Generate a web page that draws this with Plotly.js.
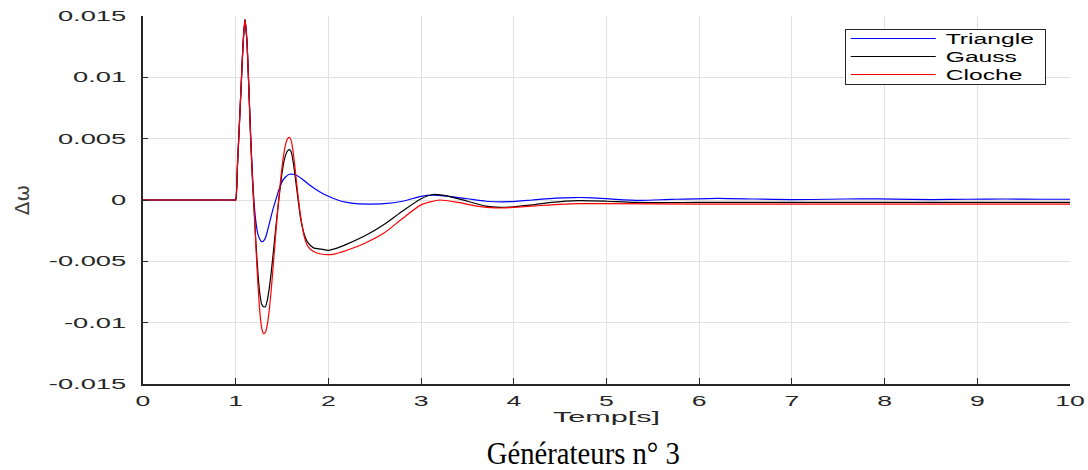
<!DOCTYPE html>
<html>
<head>
<meta charset="utf-8">
<script src="https://cdn.plot.ly/plotly-3.0.1.min.js"></script>
<style>
  html, body { margin: 0; padding: 0; background: #fff; }
  #chart { width: 1088px; height: 470px; }
</style>
</head>
<body>
<div id="chart"></div>
<script>
// ---- Data ----
var seriesNames = ['Triangle', 'Gauss', 'Cloche'];
var seriesColors = ['#0000ff', '#000000', '#ff0000'];

var tTriangle = [0, 0.5, 0.99, 1.00, 1.02, 1.04, 1.06, 1.08, 1.10, 1.12, 1.14, 1.16, 1.18, 1.20, 1.22, 1.24, 1.26, 1.28, 1.30, 1.32, 1.34, 1.36, 1.38, 1.40, 1.42, 1.44, 1.46, 1.48, 1.50, 1.54, 1.58, 1.62, 1.66, 1.72, 1.80, 1.90, 2.00, 2.10, 2.20, 2.30, 2.45, 2.60, 2.80, 3.00, 3.13, 3.30, 3.50, 3.70, 3.95, 4.20, 4.45, 4.65, 4.85, 5.10, 5.36, 5.70, 6.20, 6.60, 7.00, 7.40, 7.75, 8.10, 8.50, 8.90, 9.30, 9.70, 10.0];
var vTriangle = [0, 0, 0, 0, 0.0030, 0.0062, 0.0095, 0.0128, 0.0147, 0.0131, 0.0095, 0.0055, 0.0022, -0.0004, -0.0019, -0.0028, -0.0032, -0.0034, -0.00335, -0.0031, -0.0026, -0.0020, -0.0014, -0.0008, -0.0003, 0.0002, 0.0007, 0.0011, 0.0015, 0.0019, 0.0021, 0.0021, 0.0020, 0.0017, 0.0012, 0.0007, 0.0003, 0.0000, -0.0002, -0.0003, -0.00033, -0.0003, -0.0001, 0.0003, 0.0004, 0.0003, 0.0001, -0.0001, -0.00014, 0.0000, 0.00015, 0.0002, 0.00018, 0.00005, -0.00003, 0.00005, 0.00014, 0.00008, 0.00003, 0.00006, 0.0001, 0.00007, 0.00003, 0.00006, 0.00008, 0.00006, 0.00006];

var tGauss = [0, 0.5, 0.99, 1.00, 1.02, 1.04, 1.06, 1.08, 1.10, 1.12, 1.14, 1.16, 1.18, 1.20, 1.22, 1.24, 1.26, 1.28, 1.30, 1.32, 1.34, 1.36, 1.38, 1.40, 1.42, 1.44, 1.46, 1.48, 1.50, 1.52, 1.54, 1.56, 1.58, 1.60, 1.62, 1.64, 1.66, 1.68, 1.70, 1.74, 1.78, 1.84, 1.92, 2.00, 2.10, 2.20, 2.40, 2.60, 2.80, 3.00, 3.13, 3.30, 3.50, 3.70, 3.85, 4.00, 4.20, 4.40, 4.70, 5.00, 5.30, 6.00, 7.00, 8.00, 9.00, 10.0];
var vGauss = [0, 0, 0, 0, 0.0030, 0.0062, 0.0095, 0.0128, 0.0147, 0.0131, 0.0095, 0.0053, 0.0018, -0.0010, -0.0037, -0.0060, -0.0076, -0.0085, -0.0087, -0.0087, -0.0082, -0.0073, -0.0061, -0.0047, -0.0032, -0.0017, -0.0003, 0.0010, 0.0022, 0.0031, 0.0037, 0.0040, 0.0041, 0.0039, 0.0031, 0.0020, 0.0008, -0.0004, -0.0015, -0.0028, -0.0035, -0.0039, -0.0040, -0.0041, -0.0039, -0.0036, -0.0029, -0.0020, -0.0009, 0.0001, 0.00045, 0.0003, -0.0001, -0.0005, -0.0006, -0.00055, -0.0004, -0.0002, -0.00005, -0.0001, -0.0002, -0.0002, -0.0002, -0.0002, -0.0002, -0.0002];

var tCloche = [0, 0.5, 0.99, 1.00, 1.02, 1.04, 1.06, 1.08, 1.10, 1.12, 1.14, 1.16, 1.18, 1.20, 1.22, 1.24, 1.26, 1.28, 1.30, 1.32, 1.34, 1.36, 1.38, 1.40, 1.42, 1.44, 1.46, 1.48, 1.50, 1.52, 1.54, 1.56, 1.58, 1.60, 1.62, 1.64, 1.66, 1.68, 1.70, 1.74, 1.78, 1.84, 1.92, 2.05, 2.20, 2.40, 2.60, 2.80, 3.00, 3.20, 3.40, 3.60, 3.80, 4.00, 4.30, 4.70, 5.00, 6.00, 7.00, 8.00, 9.00, 10.0];
var vCloche = [0, 0, 0, 0, 0.0030, 0.0062, 0.0095, 0.0128, 0.0147, 0.0131, 0.0095, 0.0053, 0.0018, -0.0010, -0.0041, -0.0069, -0.0091, -0.0104, -0.0109, -0.0108, -0.0102, -0.0091, -0.0076, -0.0058, -0.0039, -0.0020, -0.0003, 0.0013, 0.0027, 0.0038, 0.0046, 0.0050, 0.0051, 0.0048, 0.0039, 0.0026, 0.0012, -0.0001, -0.0013, -0.0030, -0.0038, -0.0042, -0.0044, -0.00443, -0.0041, -0.0035, -0.0027, -0.0015, -0.0004, 0.0000, -0.0002, -0.0005, -0.00065, -0.0006, -0.00045, -0.0003, -0.0003, -0.00033, -0.00033, -0.00033, -0.00033, -0.00033];

var xTickVals = [0, 1, 2, 3, 4, 5, 6, 7, 8, 9, 10];
var xTickText = ['0', '1', '2', '3', '4', '5', '6', '7', '8', '9', '10'];
var yTickVals = [-0.015, -0.01, -0.005, 0, 0.005, 0.01, 0.015];
var yTickText = ['-0.015', '-0.01', '-0.005', '0', '0.005', '0.01', '0.015'];

var xTitle = 'Temp[s]';
var yTitle = '\u0394\u03c9';
var caption = 'G\u00e9n\u00e9rateurs n\u00b0 3';

// ---- Traces ----
var xs = [tTriangle, tGauss, tCloche];
var ys = [vTriangle, vGauss, vCloche];
var traces = seriesNames.map(function (name, i) {
  return {
    type: 'scatter', mode: 'lines', name: name,
    x: xs[i], y: ys[i],
    line: { color: seriesColors[i], width: 1.2, shape: 'spline', smoothing: 0.6 }
  };
});

var sans = 'Liberation Sans, Arial, sans-serif';
var layout = {
  width: 1088, height: 470,
  margin: { l: 143, r: 18, t: 16, b: 86 },
  paper_bgcolor: '#ffffff', plot_bgcolor: '#ffffff',
  showlegend: true,
  legend: {
    x: 0.757, y: 0.9647, xanchor: 'left', yanchor: 'top',
    bgcolor: '#ffffff', bordercolor: '#262626', borderwidth: 1,
    font: { family: sans, size: 14, color: '#000000' },
    itemwidth: 90
  },
  xaxis: {
    range: [0, 10], tickmode: 'array', tickvals: xTickVals, ticktext: xTickText,
    ticks: 'inside', ticklen: 6, tickwidth: 1, tickcolor: '#262626',
    showline: true, linecolor: '#262626', linewidth: 1.5,
    showgrid: true, gridcolor: '#e0e0e0', gridwidth: 1, zeroline: false,
    tickfont: { family: sans, size: 14, color: '#262626' },
    ticklabelstandoff: 4,
    title: { text: xTitle, font: { family: sans, size: 14, color: '#262626' }, standoff: 2 },
    fixedrange: true
  },
  yaxis: {
    range: [-0.015, 0.015], tickmode: 'array', tickvals: yTickVals, ticktext: yTickText,
    ticks: 'inside', ticklen: 5, tickwidth: 1, tickcolor: '#262626',
    showline: true, linecolor: '#262626', linewidth: 2,
    showgrid: true, gridcolor: '#e0e0e0', gridwidth: 1, zeroline: false,
    tickfont: { family: sans, size: 14, color: '#262626' },
    ticklabelstandoff: 12,
    title: { text: yTitle, font: { family: 'DejaVu Sans, sans-serif', size: 20, color: '#404040' }, standoff: 51 },
    fixedrange: true
  },
  annotations: [{
    text: caption, xref: 'paper', yref: 'paper', x: 0.475, y: -0.1875,
    xanchor: 'center', yanchor: 'middle', showarrow: false,
    font: { family: 'Liberation Serif, Times New Roman, serif', size: 31, color: '#000000' }
  }]
};

function stretch(sel, factor, target) {
  document.querySelectorAll(sel).forEach(function (el) {
    var w = el.getComputedTextLength();
    var L = target ? target : w * factor;
    el.setAttribute('textLength', L.toFixed(1));
    el.setAttribute('lengthAdjust', 'spacingAndGlyphs');
  });
}

Plotly.newPlot('chart', traces, layout, { staticPlot: true, displayModeBar: false }).then(function () {
  // the reference figure was stretched horizontally: mimic with textLength
  stretch('.xtick text', 1.9);
  stretch('.ytick text', 1.95);
  stretch('.g-xtitle text', 0, 107);
  stretch('.legendtext', 1.76);
  stretch('.annotation-text', 0, 193);
  // legend: longer line samples, tighter rows, wider box
  document.querySelectorAll('.legendlines path').forEach(function (p) { p.setAttribute('d', 'M5,0h85'); });
  var rows = document.querySelectorAll('.legend .traces');
  rows.forEach(function (g, i) { g.setAttribute('transform', 'translate(1,' + (9.5 + 18 * i) + ')'); });
  var bg = document.querySelector('.legend rect.bg');
  if (bg) { bg.setAttribute('width', 200); bg.setAttribute('height', 55); }
  document.querySelectorAll('clipPath[id^="legend"] rect').forEach(function (r) {
    r.setAttribute('width', 201); r.setAttribute('height', 56);
  });
});
</script>
</body>
</html>
